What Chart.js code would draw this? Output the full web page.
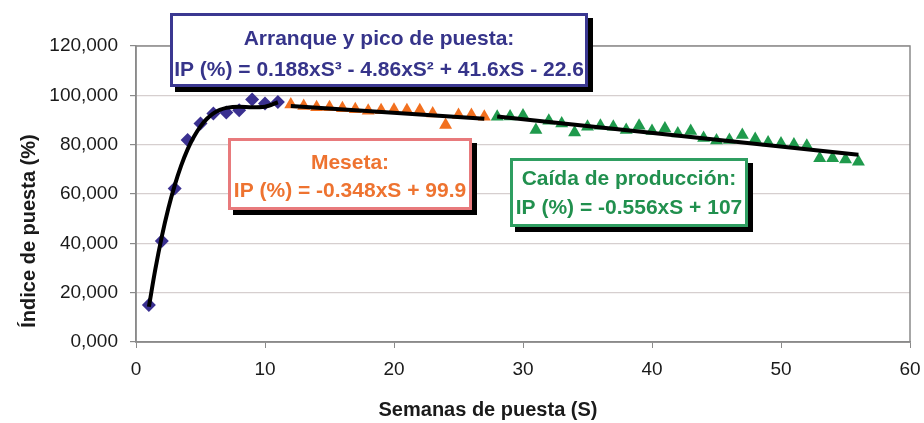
<!DOCTYPE html>
<html>
<head>
<meta charset="utf-8">
<script src="https://cdn.jsdelivr.net/npm/chart.js@4/dist/chart.umd.min.js"></script>
<style>
  html, body { margin: 0; padding: 0; background: #ffffff; }
  #wrap { width: 924px; height: 423px; }
</style>
</head>
<body>
<div id="wrap"><canvas id="c" width="924" height="423"></canvas></div>
<script>
// ---- data ----
const blueWeeks = [1, 2, 3, 4, 5, 6, 7, 8, 9, 10, 11];
const blueIP = [15.0, 40.9, 62.2, 81.9, 88.6, 92.6, 93.0, 94.0, 98.3, 96.7, 97.3];

const orangeWeeks = [12, 13, 14, 15, 16, 17, 18, 19, 20, 21, 22, 23, 24, 25, 26, 27];
const orangeIP = [96.3, 95.7, 95.2, 95.2, 94.8, 94.4, 93.8, 94.0, 94.2, 94.0, 94.0, 92.6, 88.0, 92.0, 92.0, 91.3];

const greenWeeks = [28, 29, 30, 31, 32, 33, 34, 35, 36, 37, 38, 39, 40, 41, 42, 43, 44, 45, 46, 47, 48, 49, 50, 51, 52, 53, 54, 55, 56];
const greenIP = [91.3, 91.4, 91.8, 85.9, 89.7, 88.6, 84.9, 87.3, 87.7, 87.3, 85.9, 87.7, 85.5, 86.6, 84.5, 85.5, 82.7, 81.7, 81.9, 83.9, 82.3, 80.9, 80.5, 80.1, 79.6, 74.5, 74.5, 74.0, 73.1];

// trend lines
const polyS = [1, 1.5, 2, 2.5, 3, 3.5, 4, 4.5, 5, 5.5, 6, 6.5, 7, 8, 9, 10, 11];
const polyIP = [14.3, 29.5, 42.7, 54.0, 63.5, 71.5, 78.1, 83.3, 87.4, 90.5, 92.7, 94.1, 94.9, 95.4, 95.2, 95.4, 97.2];
const mesetaS = [12, 27];
const mesetaIP = [95.7, 90.5];
const caidaS = [28, 56];
const caidaIP = [91.4, 75.9];

const xTickLabels = ['0', '10', '20', '30', '40', '50', '60'];
const yTickLabels = ['0,000', '20,000', '40,000', '60,000', '80,000', '100,000', '120,000'];

const xTitle = 'Semanas de puesta (S)';
const yTitle = 'Índice de puesta (%)';

const boxTexts = {
  arranque: ['Arranque y pico de puesta:', 'IP (%) = 0.188xS³ - 4.86xS² + 41.6xS - 22.6'],
  meseta: ['Meseta:', 'IP (%) = -0.348xS + 99.9'],
  caida: ['Caída de producción:', 'IP (%) = -0.556xS + 107']
};

function pts(xs, ys) { return xs.map((x, i) => ({ x: x, y: ys[i] })); }

const FONT = '"Liberation Sans", Arial, Helvetica, sans-serif';

const overlay = {
  id: 'overlay',
  beforeDatasetsDraw(chart) {
    const { ctx, chartArea: a } = chart;
    ctx.save();
    ctx.strokeStyle = '#8a8a8a';
    ctx.lineWidth = 1.5;
    ctx.strokeRect(a.left, a.top, a.right - a.left, a.bottom - a.top);
    ctx.restore();
  },
  afterDraw(chart) {
    const ctx = chart.ctx;
    ctx.save();
    // axis titles
    ctx.fillStyle = '#1a1a1a';
    ctx.font = 'bold 20px ' + FONT;
    ctx.textAlign = 'center';
    ctx.textBaseline = 'middle';
    ctx.fillText(xTitle, 488, 410);
    ctx.save();
    ctx.translate(29, 231);
    ctx.rotate(-Math.PI / 2);
    ctx.fillText(yTitle, 0, 0);
    ctx.restore();

    function box(x, y, w, h, border, color, lines, ys) {
      ctx.fillStyle = '#000000';
      ctx.fillRect(x + 5, y + 5, w, h);
      ctx.fillStyle = '#ffffff';
      ctx.fillRect(x, y, w, h);
      ctx.strokeStyle = border;
      ctx.lineWidth = 3;
      ctx.strokeRect(x + 1.5, y + 1.5, w - 3, h - 3);
      ctx.fillStyle = color;
      ctx.font = 'bold 21px ' + FONT;
      ctx.textAlign = 'center';
      ctx.textBaseline = 'middle';
      lines.forEach((t, i) => ctx.fillText(t, x + w / 2, ys[i]));
    }
    box(170, 13, 418, 74, '#3b3891', '#36348a', boxTexts.arranque, [39, 70]);
    box(228, 138, 244, 72, '#e87a7c', '#ee7330', boxTexts.meseta, [163, 191]);
    box(510, 158, 238, 69, '#2f9e61', '#21904e', boxTexts.caida, [179, 208]);
    ctx.restore();
  }
};

new Chart(document.getElementById('c'), {
  type: 'scatter',
  data: {
    datasets: [
      { label: 'poly', type: 'line', data: pts(polyS, polyIP), borderColor: '#000', borderWidth: 4,
        pointRadius: 0, cubicInterpolationMode: 'monotone', fill: false, order: 0 },
      { label: 'meseta', type: 'line', data: pts(mesetaS, mesetaIP), borderColor: '#000', borderWidth: 4,
        pointRadius: 0, fill: false, order: 0 },
      { label: 'caida', type: 'line', data: pts(caidaS, caidaIP), borderColor: '#000', borderWidth: 4,
        pointRadius: 0, fill: false, order: 0 },
      { label: 'arranque', data: pts(blueWeeks, blueIP), pointStyle: 'rectRot', pointRadius: 7,
        backgroundColor: '#3a3090', borderColor: '#3a3090', borderWidth: 0, order: 1 },
      { label: 'mesetaPts', data: pts(orangeWeeks, orangeIP), pointStyle: 'triangle', pointRadius: 7.5,
        backgroundColor: '#f2701f', borderColor: '#f2701f', borderWidth: 0, order: 1 },
      { label: 'caidaPts', data: pts(greenWeeks, greenIP), pointStyle: 'triangle', pointRadius: 7.5,
        backgroundColor: '#1f9a4c', borderColor: '#1f9a4c', borderWidth: 0, order: 1 }
    ]
  },
  options: {
    responsive: false,
    animation: false,
    devicePixelRatio: 1,
    layout: { padding: { left: 0, top: 46, right: 14, bottom: 0 } },
    plugins: { legend: { display: false }, tooltip: { enabled: false } },
    scales: {
      x: {
        type: 'linear', min: 0, max: 60,
        afterFit(s) { s.height = 81; s.paddingLeft = 0; s.paddingRight = 0; },
        ticks: { stepSize: 10, color: '#1a1a1a', font: { size: 19, family: FONT }, padding: 10,
          callback: (v, i) => xTickLabels[i] },
        grid: { display: true, drawOnChartArea: false, tickLength: 6, tickColor: '#8a8a8a' },
        border: { color: '#8a8a8a', width: 1.5 }
      },
      y: {
        type: 'linear', min: 0, max: 120,
        afterFit(s) { s.width = 136; s.paddingTop = 0; s.paddingBottom = 0; },
        ticks: { stepSize: 20, color: '#1a1a1a', font: { size: 19, family: FONT }, padding: 12,
          callback: (v, i) => yTickLabels[i] },
        grid: { color: '#d6cfcf', lineWidth: 1.2, tickLength: 6, tickColor: '#8a8a8a' },
        border: { color: '#8a8a8a', width: 1.5 }
      }
    }
  },
  plugins: [overlay]
});
</script>
</body>
</html>
